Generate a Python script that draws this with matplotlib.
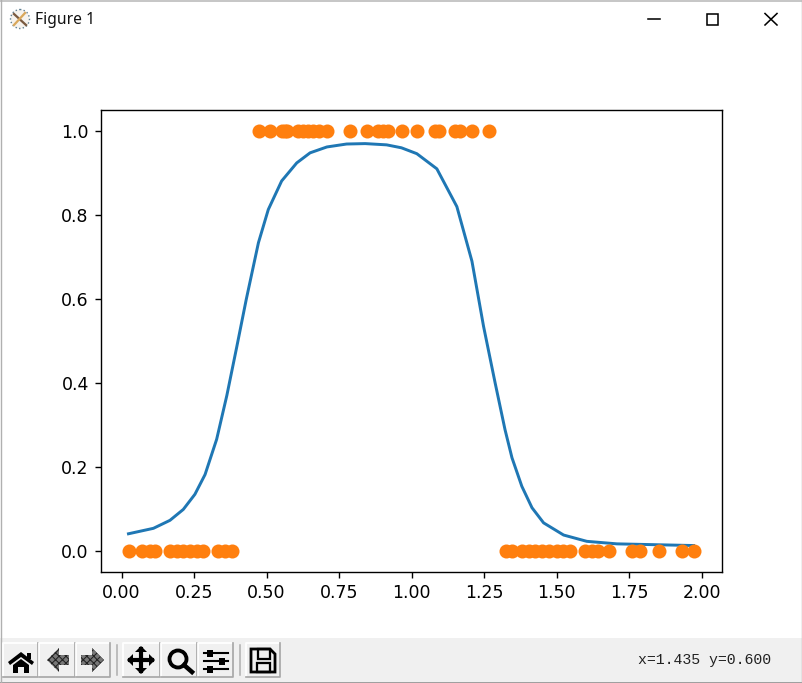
import numpy as np
import matplotlib
matplotlib.use("Agg")
import matplotlib.pyplot as plt
from matplotlib.patches import Rectangle, Polygon, Circle
from matplotlib.lines import Line2D

# logistic curve
curve_x = [0.024, 0.11, 0.167, 0.213, 0.253, 0.288, 0.328, 0.363, 0.397, 0.43, 0.472, 0.506,
           0.552, 0.604, 0.65, 0.708, 0.776, 0.84, 0.914, 0.965, 1.018, 1.087, 1.156, 1.208,
           1.248, 1.288, 1.322, 1.346, 1.38, 1.415, 1.455, 1.524, 1.604, 1.708, 1.972]
curve_y = [0.041, 0.054, 0.073, 0.099, 0.135, 0.182, 0.266, 0.37, 0.485, 0.599, 0.734, 0.813,
           0.881, 0.924, 0.948, 0.962, 0.969, 0.97, 0.967, 0.96, 0.946, 0.91, 0.82, 0.69,
           0.535, 0.4, 0.289, 0.222, 0.154, 0.103, 0.067, 0.038, 0.023, 0.017, 0.013]

# the samples
top_x = [0.475, 0.512, 0.552, 0.564, 0.572, 0.609, 0.626, 0.643, 0.66, 0.681, 0.709, 0.788,
         0.847, 0.884, 0.902, 0.919, 0.967, 1.019, 1.081, 1.093, 1.15, 1.167, 1.209, 1.267]
bottom_x = [0.027, 0.07, 0.098, 0.115, 0.167, 0.19, 0.213, 0.236, 0.259, 0.282, 0.334, 0.357,
            0.38, 1.326, 1.345, 1.38, 1.403, 1.426, 1.449, 1.472, 1.5, 1.523, 1.547, 1.598,
            1.621, 1.644, 1.679, 1.759, 1.788, 1.853, 1.932, 1.972]

fig = plt.figure(figsize=(802 / 125, 683 / 125), dpi=125, facecolor="white")
W, H = 802.0, 683.0


def box(x0, y0, x1, y1):
    # pixel box (y down) to figure fractions
    return [x0 / W, 1 - y1 / H, (x1 - x0) / W, (y1 - y0) / H]


ax = fig.add_axes(box(101, 110, 722, 572))
ax.plot(curve_x, curve_y, color="C0", lw=1.7)
ax.scatter(top_x, [1.0] * len(top_x), s=50, color="C1", zorder=3)
ax.scatter(bottom_x, [0.0] * len(bottom_x), s=50, color="C1", zorder=3)
ax.set_xlim(-0.0707, 2.07)
ax.set_ylim(-0.05, 1.05)
ax.set_xticks(np.arange(0, 2.01, 0.25))
ax.set_xticklabels(["0.00", "0.25", "0.50", "0.75", "1.00", "1.25", "1.50", "1.75", "2.00"])
ax.set_yticks([0, 0.2, 0.4, 0.6, 0.8, 1.0])

# window chrome drawn on an overlay in pixel coordinates
ui = fig.add_axes([0, 0, 1, 1], facecolor="none")
ui.set_xlim(0, W)
ui.set_ylim(H, 0)
ui.axis("off")

ui.add_patch(Rectangle((0, 638), W, 45, color="#f0f0f0", lw=0))
ui.add_line(Line2D([0, 802], [0.5, 0.5], color="#b8b8b8", lw=0.9))
ui.add_line(Line2D([0, 802], [682.5, 682.5], color="#8a8a8a", lw=0.9))
ui.add_line(Line2D([0.5, 0.5], [0, 683], color="#b0b0b0", lw=0.8))
ui.add_line(Line2D([801.5, 801.5], [0, 683], color="#b0b0b0", lw=0.8))

# title bar
ui.add_patch(Circle((20, 19), 9.5, fc="#f6f3ee", ec="#5d7f93", lw=0.8, ls=":"))
ui.add_line(Line2D([14, 26], [14, 25], color="#7a5a40", lw=1.3))
ui.add_line(Line2D([14, 25], [25, 13], color="#d9a85c", lw=1.3))
ui.text(35, 20, "Figure 1", family="Noto Sans", fontsize=9.0, va="center", ha="left", color="#111111")
ui.add_line(Line2D([648, 660], [18.5, 18.5], color="black", lw=0.9))
ui.add_patch(Rectangle((706.5, 13.5), 11, 11, fc="none", ec="black", lw=0.9))
ui.add_line(Line2D([765, 777], [13.5, 25], color="black", lw=0.9))
ui.add_line(Line2D([765, 777], [25, 13.5], color="black", lw=0.9))

# toolbar buttons, raised look
for x0, x1 in [(3, 38), (39, 75), (76, 110), (123, 160), (161, 197), (198, 233), (246, 280)]:
    ui.add_line(Line2D([x0, x0, x1], [677, 643, 643], color="white", lw=1))
    ui.add_line(Line2D([x0, x1, x1], [677, 677, 643], color="#a8a8a8", lw=1))
for xs in [116.5, 239.5]:
    ui.add_line(Line2D([xs, xs], [645, 675], color="#b0b0b0", lw=0.9))

# home
ui.add_patch(Polygon([(8, 662), (21, 652), (34, 662), (32, 665), (21, 657), (10, 665)], color="black", lw=0))
ui.add_patch(Polygon([(13, 665), (21, 659), (29, 665), (29, 673), (24, 673), (24, 667), (18, 667), (18, 673), (13, 673)], color="black", lw=0))
ui.add_patch(Rectangle((27, 653), 4, 6, color="black", lw=0))
# back / forward, dithered like the tk icons
plt.rcParams["hatch.linewidth"] = 0.6
ui.add_patch(Polygon([(47, 660), (59, 648), (59, 655), (69, 655), (69, 665), (59, 665), (59, 672)],
                     fc="#777777", ec="#222222", hatch="xxxxxx", lw=0))
ui.add_patch(Polygon([(104, 660), (92, 648), (92, 655), (81, 655), (81, 665), (92, 665), (92, 672)],
                     fc="#777777", ec="#222222", hatch="xxxxxx", lw=0))
# pan
ui.add_line(Line2D([130, 152], [660, 660], color="black", lw=2.4))
ui.add_line(Line2D([141, 141], [649, 671], color="black", lw=2.4))
for pts in [[(127, 660), (133, 654), (133, 666)], [(155, 660), (149, 654), (149, 666)],
            [(141, 646), (135, 652), (147, 652)], [(141, 674), (135, 668), (147, 668)]]:
    ui.add_patch(Polygon(pts, color="black", lw=0))
# zoom
ui.add_patch(Circle((178, 659), 8.5, fc="none", ec="black", lw=2.2))
ui.add_line(Line2D([184, 192], [665, 672], color="black", lw=2.6))
# sliders
for yy, xx in [(653, 210), (661, 222), (669, 210)]:
    ui.add_line(Line2D([204, 228], [yy, yy], color="black", lw=1.2))
    ui.add_patch(Rectangle((xx - 3, yy - 3.5), 6, 7, color="black", lw=0))
# save
ui.add_patch(Polygon([(251, 649), (270, 649), (275, 654), (275, 672), (251, 672)], fc="none", ec="black", lw=1.6))
ui.add_patch(Rectangle((258, 649), 12, 10, fc="none", ec="black", lw=1.3))
ui.add_patch(Rectangle((257, 663), 13, 9, fc="none", ec="black", lw=1.3))

ui.text(638, 660, "x=1.435 y=0.600", family="Liberation Mono", fontsize=8.6, va="center", ha="left", color="#222222")

fig.savefig("out.png", dpi=125)
